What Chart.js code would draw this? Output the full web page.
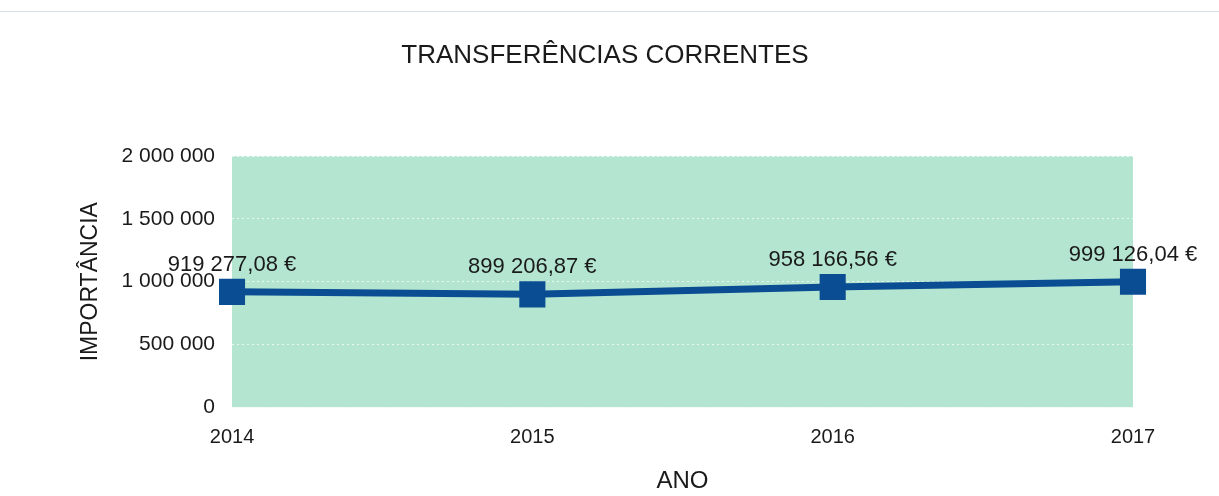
<!DOCTYPE html>
<html>
<head>
<meta charset="utf-8">
<script src="https://cdn.jsdelivr.net/npm/chart.js@4/dist/chart.umd.min.js"></script>
<style>
  html, body { margin: 0; padding: 0; background: #fff; }
  #wrap { position: relative; width: 1219px; height: 496px; }
  #topline { position: absolute; left: 0; right: 0; top: 11px; height: 1px; background: #d3e0e8; }
  canvas { display: block; }
</style>
</head>
<body>
<div id="wrap">
  <div id="topline"></div>
  <canvas id="chart" width="1219" height="496"></canvas>
</div>
<script>
// dados
const anos = ['2014', '2015', '2016', '2017'];
const valores = [919277.08, 899206.87, 958166.56, 999126.04];
const yTicks = [0, 500000, 1000000, 1500000, 2000000];

// 1 000 000 style
function fmtInt(n) {
  return String(Math.round(n)).replace(/\B(?=(\d{3})+(?!\d))/g, ' ');
}
function fmtEuro(n) {
  const parts = n.toFixed(2).split('.');
  return fmtInt(Number(parts[0])) + ',' + parts[1] + ' €';
}

const FONT = "'Liberation Sans', Arial, sans-serif";

// fundo verde da área do gráfico
const plotBg = {
  id: 'plotBg',
  beforeDraw(chart) {
    const { ctx, chartArea: a } = chart;
    ctx.save();
    ctx.fillStyle = '#b3e5d1';
    ctx.fillRect(a.left, a.top, a.right - a.left, a.bottom - a.top);
    ctx.restore();
  }
};

// rótulos dos valores por cima dos pontos
const valueLabels = {
  id: 'valueLabels',
  afterDatasetsDraw(chart) {
    const ctx = chart.ctx;
    const meta = chart.getDatasetMeta(0);
    ctx.save();
    ctx.font = '22px ' + FONT;
    ctx.fillStyle = '#1a1a1a';
    ctx.textAlign = 'center';
    ctx.textBaseline = 'middle';
    meta.data.forEach((pt, i) => {
      ctx.fillText(fmtEuro(valores[i]), pt.x, pt.y - 27);
    });
    ctx.restore();
  }
};

new Chart(document.getElementById('chart'), {
  type: 'line',
  data: {
    labels: anos,
    datasets: [{
      data: valores,
      borderColor: '#0a4d92',
      backgroundColor: '#0a4d92',
      borderWidth: 7,
      pointStyle: 'rect',
      pointRadius: 13.5,
      pointHoverRadius: 13.5,
      tension: 0
    }]
  },
  options: {
    responsive: false,
    animation: false,
    events: [],
    layout: { padding: { left: 77, right: 86, top: 0, bottom: 0 } },
    plugins: {
      legend: { display: false },
      tooltip: { enabled: false },
      title: {
        display: true,
        text: 'TRANSFERÊNCIAS CORRENTES',
        color: '#1a1a1a',
        font: { family: FONT, size: 26, weight: 'normal' },
        padding: { top: 40, bottom: 85 }
      }
    },
    scales: {
      x: {
        offset: false,
        grid: { display: false, drawTicks: false },
        border: { display: false },
        ticks: { color: '#1a1a1a', font: { family: FONT, size: 20 }, padding: 18, maxRotation: 0 },
        title: {
          display: true,
          text: 'ANO',
          color: '#1a1a1a',
          font: { family: FONT, size: 24 },
          padding: { top: 0, bottom: 0 }
        }
      },
      y: {
        min: 0,
        max: 2000000,
        afterBuildTicks(axis) {
          axis.ticks = yTicks.map(v => ({ value: v }));
        },
        grid: {
          color: 'rgba(255,255,255,0.7)',
          lineWidth: 1,
          drawTicks: false
        },
        border: { display: false, dash: [2, 3] },
        ticks: {
          color: '#1a1a1a',
          font: { family: FONT, size: 21 },
          padding: 17,
          callback: v => fmtInt(v)
        },
        title: {
          display: true,
          text: 'IMPORTÂNCIA',
          color: '#1a1a1a',
          font: { family: FONT, size: 23 },
          padding: { top: 0, bottom: 0 }
        }
      }
    }
  },
  plugins: [plotBg, valueLabels]
});
</script>
</body>
</html>
